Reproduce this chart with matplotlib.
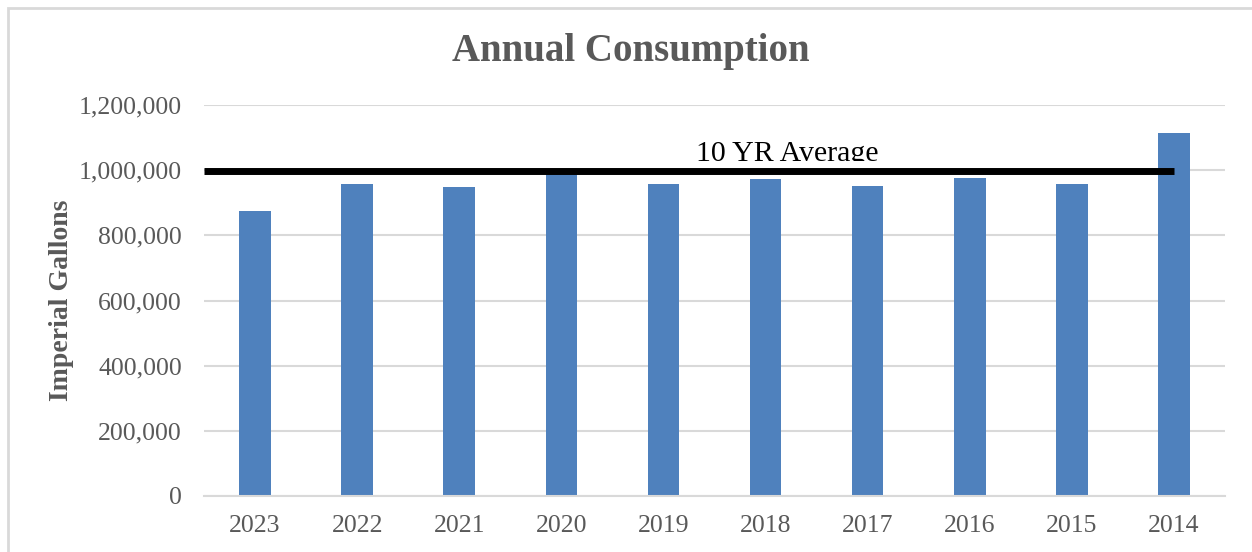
import matplotlib
matplotlib.use("Agg")
import matplotlib.pyplot as plt
from matplotlib.patches import Rectangle
from matplotlib.transforms import Bbox, TransformedBbox
from matplotlib.ticker import FuncFormatter

years = ["2023", "2022", "2021", "2020", "2019", "2018", "2017", "2016", "2015", "2014"]
gallons = [875000, 958000, 947000, 990000, 958000, 972000, 951000, 975000, 958000, 1113000]
avg_value = 996000
avg_label = "10 YR Average"

plt.rcParams['font.family'] = ['Liberation Serif', 'DejaVu Serif']
gray = '#595959'

fig = plt.figure(figsize=(12.52, 5.52), dpi=100)
ax = fig.add_axes([204 / 1252, 1 - 496 / 552, 1021 / 1252, 391 / 552])

# chart frame (cut off at right and bottom like the source image)
fig.patches.append(Rectangle((8 / 1252, -0.1), 1.2, 1 - 8 / 552 + 0.1,
                             transform=fig.transFigure, fill=False,
                             edgecolor='#d9d9d9', linewidth=2))

x = range(len(years))
ax.bar(x, gallons, width=0.31, color='#4f81bd', zorder=2)

# average line runs from the left edge to the centre of the last bar
ax.plot([-0.5, len(years) - 1], [avg_value, avg_value], color='black',
        linewidth=5, solid_capstyle='butt', zorder=3)
txt = ax.text(5.21, avg_value + 31000, avg_label, ha='center', va='baseline',
              fontsize=21.5, color='black', zorder=4)
# the label box clips the descenders
clip = TransformedBbox(Bbox([[3, avg_value + 31000], [7, 1300000]]), ax.transData)
txt.set_clip_box(clip)
txt.set_clip_on(True)

ax.set_xlim(-0.5, len(years) - 0.5)
ax.set_ylim(0, 1200000)
ax.set_yticks(range(0, 1200001, 200000))
ax.yaxis.set_major_formatter(FuncFormatter(lambda v, p: f"{int(v):,}"))
ax.set_xticks(list(x))
ax.set_xticklabels(years)
ax.grid(axis='y', color='#d9d9d9', linewidth=1.5, zorder=0)
ax.set_axisbelow(True)
for s in ['top', 'right', 'left']:
    ax.spines[s].set_visible(False)
ax.spines['bottom'].set_color('#d9d9d9')
ax.spines['bottom'].set_linewidth(1.5)
ax.tick_params(length=0, labelsize=18.5, labelcolor=gray)
ax.tick_params(axis='x', pad=14)
ax.tick_params(axis='y', pad=16)

ax.set_ylabel("Imperial Gallons", fontsize=20, fontweight='bold', color=gray, labelpad=3)
fig.text(631 / 1252, 1 - 52 / 552, "Annual Consumption", ha='center', va='center',
         fontsize=28, fontweight='bold', color=gray)

fig.savefig("out.png", dpi=100)
